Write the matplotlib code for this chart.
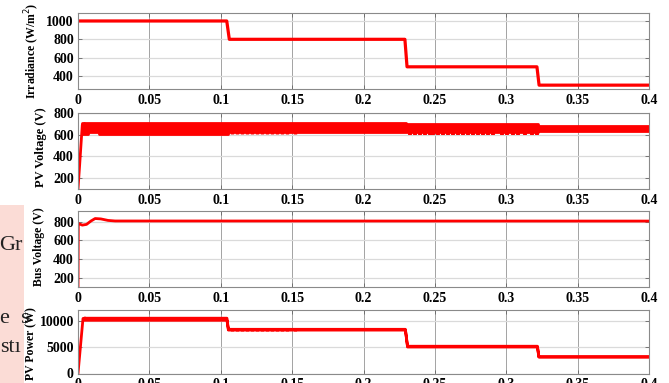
import matplotlib.pyplot as plt
from matplotlib.patches import Rectangle

plt.rcParams['font.family'] = ['Liberation Serif', 'DejaVu Serif']

# --- data ---
xticks = [0, 0.05, 0.1, 0.15, 0.2, 0.25, 0.3, 0.35, 0.4]
xtick_labels = ['0', '0.05', '0.1', '0.15', '0.2', '0.25', '0.3', '0.35', '0.4']

# irradiance steps (W/m2)
irr_t = [0, 0.1042, 0.106, 0.229, 0.2305, 0.3215, 0.323, 0.4]
irr_g = [1000, 1000, 800, 800, 500, 500, 300, 300]

# PV voltage: start-up ramp, then the MPPT ripple band (upper / lower envelope)
vpv_ramp_t = [0, 0.0012, 0.003, 0.0045]
vpv_ramp_v = [100, 330, 690, 700]
vpv_band_t = [0.003, 0.007, 0.007, 0.015, 0.015, 0.105, 0.105, 0.23, 0.23, 0.322, 0.322, 0.4]
vpv_band_hi = [710, 710, 710, 710, 710, 710, 710, 710, 698, 698, 682, 682]
vpv_band_lo = [603, 603, 628, 628, 610, 610, 628, 628, 622, 622, 638, 638]

# times where the ripple dips below the band
dips_b = [0.108, 0.1115, 0.115, 0.1185, 0.122, 0.1255, 0.129, 0.1325,
          0.136, 0.1395, 0.143, 0.1465, 0.152]
dips_c = [0.2326, 0.2361, 0.2396, 0.2431, 0.2466, 0.2487, 0.2522, 0.2557,
          0.2592, 0.2627, 0.2662, 0.2697, 0.2732, 0.2767, 0.2802, 0.2837,
          0.2872, 0.2907, 0.2970, 0.3005, 0.3047, 0.3082, 0.3131, 0.3180, 0.3215]
vpv_dip_b = [603, 628]
vpv_dip_c = [596, 622]

# DC bus voltage
bus_t = [0, 0.0002, 0.003, 0.006, 0.009, 0.012, 0.016, 0.021, 0.026, 0.4]
bus_v = [0, 780, 762, 770, 805, 832, 828, 812, 806, 805]

# PV power
p_ramp_t = [0, 0.0035, 0.0045]
p_ramp_p = [0, 10400, 10450]
p_band_t = [0.004, 0.104, 0.105, 0.229, 0.2305, 0.3215, 0.3225, 0.4]
p_band_hi = [10550, 10550, 8450, 8450, 5250, 5250, 3250, 3250]
p_band_lo = [10150, 10150, 8300, 8300, 5100, 5100, 3200, 3200]
p_dip_b = [8000, 8300]
p_dip_c = [4950, 5100]

ylabels = ['Irradiance (W/m$^2$)', 'PV Voltage (V)', 'Bus Voltage (V)', 'PV Power (W)']
ylims = [(258, 1087), (100, 800), (105, 912), (0, 12100)]
yticks = [[400, 600, 800, 1000], [200, 400, 600, 800], [200, 400, 600, 800], [0, 5000, 10000]]

# --- figure ---
fig = plt.figure(figsize=(6.69, 3.83), dpi=100)
W, H = 669, 383
boxes = [(13, 89), (113, 189), (211, 287), (309.5, 373.5)]
axes = []
for top, bot in boxes:
    ax = fig.add_axes([78 / W, 1 - bot / H, 571 / W, (bot - top) / H])
    axes.append(ax)

red = '#ff0000'
lw = 2.0

axes[0].plot(irr_t, irr_g, color=red, lw=2.3)

axes[1].plot(vpv_ramp_t, vpv_ramp_v, color=red, lw=lw)
axes[1].fill_between(vpv_band_t, vpv_band_lo, vpv_band_hi, color=red, lw=lw, edgecolor=red)
axes[1].vlines(dips_b, vpv_dip_b[0], vpv_dip_b[1], color=red, lw=2.4)
axes[1].vlines(dips_c, vpv_dip_c[0], vpv_dip_c[1], color=red, lw=2.8)

axes[2].plot(bus_t, bus_v, color=red, lw=lw)

axes[3].plot(p_ramp_t, p_ramp_p, color=red, lw=lw)
axes[3].fill_between(p_band_t, p_band_lo, p_band_hi, color=red, lw=lw, edgecolor=red)
axes[3].vlines(dips_b, p_dip_b[0], p_dip_b[1], color=red, lw=2.2)
axes[3].vlines(dips_c, p_dip_c[0], p_dip_c[1], color=red, lw=2.2)

label_pos = [(-0.063, 0.5, 8.5), (-0.054, 0.55, 9), (-0.058, 0.53, 8.5), (-0.072, 0.47, 8.5)]
for i, ax in enumerate(axes):
    ax.set_xlim(0, 0.4)
    ax.set_ylim(*ylims[i])
    ax.set_xticks(xticks)
    ax.set_xticklabels(xtick_labels, fontsize=10, fontweight='bold')
    ax.set_yticks(yticks[i])
    ax.set_yticklabels([str(v) for v in yticks[i]], fontsize=10, fontweight='bold')
    ax.tick_params(direction='in', length=3, width=0.6, color='#666666',
                   top=True, right=True)
    ax.tick_params(axis='x', pad=3.5)
    ax.tick_params(axis='y', pad=3)
    ax.grid(axis='x', color='#a3a3a3', lw=0.7)
    ax.grid(axis='y', color='#dadada', lw=0.9)
    ax.set_axisbelow(True)
    for s in ax.spines.values():
        s.set_color('#8a8a8a')
        s.set_linewidth(0.8)
    lx, ly, fs = label_pos[i]
    ax.set_ylabel(ylabels[i], fontsize=fs, fontweight='bold')
    ax.yaxis.set_label_coords(lx, ly)

# bit of the neighbouring page showing on the left
fig.patches.append(Rectangle((0, 0), 24 / W, 178 / H, transform=fig.transFigure,
                             facecolor='#fbdcd6', edgecolor='none', zorder=0))
fig.text(-1 / W, 1 - 250 / H, 'Gr', fontsize=16, color='#222222')
fig.text(0, 1 - 323 / H, 'e  s', fontsize=16, color='#222222')
fig.text(0, 1 - 352 / H, 'st\u0131', fontsize=16, color='#222222')

plt.savefig('out.png', dpi=100)
